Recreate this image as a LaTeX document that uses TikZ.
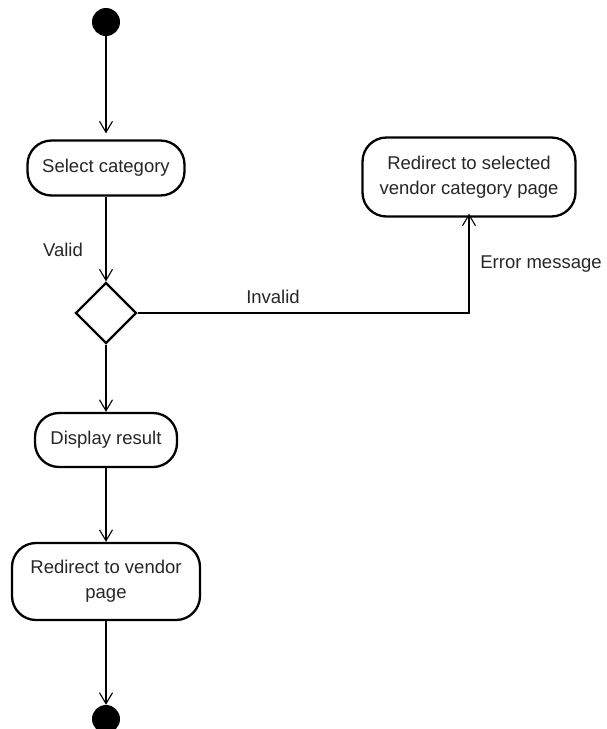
\documentclass[tikz,border=0pt]{standalone}
\usepackage{fontspec}
\setmainfont{Liberation Sans}
\usetikzlibrary{arrows.meta,shapes.geometric}
\begin{document}
\begin{tikzpicture}[x=1pt,y=-1pt,
  font=\fontsize{18.5}{25}\selectfont,
  action/.style={draw=black, line width=2.3pt, rounded corners=24pt, fill=white,
    inner sep=0pt, align=center, text=black!85},
  decision/.style={draw=black, line width=2.3pt, diamond, aspect=1, inner sep=0pt,
    minimum width=61pt, minimum height=61pt, fill=white},
  terminal/.style={circle, fill=black, inner sep=0pt, minimum size=28pt},
  flow/.style={draw=black, line width=1.1pt, -{Straight Barb[length=11pt,width=13pt,line width=1.1pt]}},
  lbl/.style={text=black!85, inner sep=0pt}]
\useasboundingbox (0,0) rectangle (607,729);
\fill[white] (0,0) rectangle (607,729);

% activity nodes
\node[terminal] (start) at (106,22) {};
\node[action, minimum width=157pt, minimum height=55pt] (sel) at (106,168) {Select category};
\node[decision] (dec) at (106,313) {};
\node[action, minimum width=213pt, minimum height=79pt] (redir) at (469,177) {Redirect to selected\\vendor category page};
\node[action, minimum width=142pt, minimum height=54pt] (disp) at (106,440) {Display result};
\node[action, minimum width=188pt, minimum height=77pt] (vend) at (106,581.5) {Redirect to vendor\\page};
\node[terminal] (stop) at (106,719) {};

% transitions
\draw[flow, shorten >=6pt] (start) -- (sel);
\draw[flow] (sel) -- (dec);
\draw[flow] (dec) -- (disp);
\draw[flow] (disp) -- (vend);
\draw[flow] (vend) -- (stop);
\draw[flow, shorten >=-4pt] (dec.east) -| (redir.south);

% guard labels
\node[lbl] (valid) at (63,250) {Valid};
\node[lbl] (invalid) at (273,297) {Invalid};
\node[lbl] (err) at (541,264) {Error message};
\end{tikzpicture}
\end{document}
